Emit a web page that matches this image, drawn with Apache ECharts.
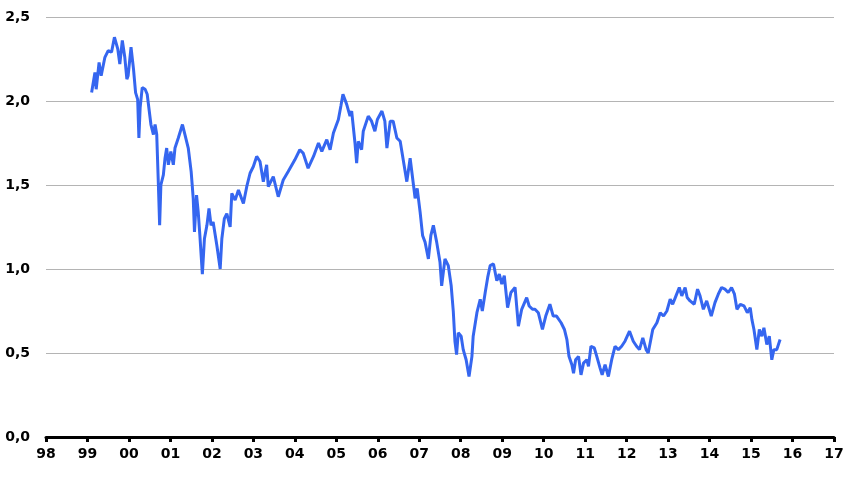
<!DOCTYPE html>
<html>
<head>
<meta charset="utf-8">
<script src="https://cdn.jsdelivr.net/npm/echarts@6/dist/echarts.min.js"></script>
<style>html,body{margin:0;padding:0;background:#fff}#c{width:854px;height:477px}</style>
</head>
<body>
<div id="c"></div>
<script>
// decimal year of each observation
var years = [
1999.10,1999.18,1999.21,1999.28,1999.33,1999.42,1999.50,1999.58,1999.65,1999.73,1999.78,1999.84,1999.90,1999.95,1999.98,
2000.05,2000.11,2000.16,2000.21,2000.24,2000.27,2000.32,2000.39,2000.44,2000.48,2000.53,2000.59,2000.63,2000.67,2000.71,2000.74,2000.77,2000.83,2000.87,2000.91,2000.95,
2001.01,2001.07,2001.11,2001.19,2001.29,2001.35,2001.43,2001.50,2001.55,2001.58,2001.63,2001.67,2001.71,2001.77,2001.82,2001.88,2001.93,2001.98,
2002.03,2002.12,2002.20,2002.24,2002.30,2002.36,2002.44,2002.48,2002.56,2002.64,2002.76,2002.84,2002.92,
2003.00,2003.08,2003.16,2003.24,2003.32,2003.36,2003.48,2003.60,2003.72,2003.84,
2004.00,2004.12,2004.20,2004.32,2004.45,2004.57,2004.65,2004.77,2004.85,2004.93,
2005.05,2005.11,2005.16,2005.25,2005.33,2005.37,2005.45,2005.49,2005.53,2005.61,2005.65,2005.77,2005.85,2005.93,2005.99,
2006.10,2006.17,2006.22,2006.30,2006.37,2006.46,2006.54,2006.62,2006.70,2006.78,2006.84,2006.90,2006.95,
2007.02,2007.08,2007.14,2007.22,2007.28,2007.34,2007.42,2007.50,2007.54,2007.62,2007.70,2007.77,2007.82,2007.86,2007.90,2007.94,
2008.01,2008.06,2008.13,2008.20,2008.27,2008.30,2008.39,2008.47,2008.52,2008.59,2008.65,2008.71,2008.79,2008.87,2008.93,2008.99,
2009.05,2009.13,2009.21,2009.31,2009.39,2009.47,2009.59,2009.65,2009.73,2009.79,2009.87,2009.97,
2010.05,2010.15,2010.23,2010.31,2010.42,2010.50,2010.56,2010.61,2010.68,2010.72,2010.77,2010.84,2010.90,2010.96,
2011.04,2011.08,2011.14,2011.22,2011.28,2011.36,2011.41,2011.48,2011.56,2011.64,2011.72,2011.80,2011.88,2011.96,
2012.07,2012.16,2012.24,2012.31,2012.39,2012.47,2012.52,2012.63,2012.73,2012.81,2012.89,2012.97,
2013.05,2013.11,2013.19,2013.27,2013.33,2013.41,2013.46,2013.53,2013.63,2013.71,2013.77,2013.85,2013.93,
2014.04,2014.13,2014.21,2014.29,2014.37,2014.45,2014.53,2014.60,2014.66,2014.74,2014.83,2014.91,2014.98,
2015.02,2015.07,2015.14,2015.20,2015.26,2015.31,2015.38,2015.44,2015.50,2015.55,2015.62,2015.70
];
var values = [
2.05,2.17,2.07,2.23,2.15,2.26,2.30,2.29,2.38,2.31,2.22,2.36,2.26,2.13,2.15,
2.32,2.19,2.05,2.01,1.78,1.96,2.08,2.07,2.04,1.96,1.86,1.80,1.86,1.80,1.50,1.26,1.50,1.56,1.66,1.72,1.62,
1.70,1.62,1.72,1.78,1.86,1.80,1.72,1.58,1.42,1.22,1.44,1.34,1.20,0.97,1.18,1.26,1.36,1.26,
1.28,1.14,1.00,1.18,1.30,1.33,1.25,1.45,1.41,1.47,1.39,1.49,1.57,
1.61,1.67,1.64,1.52,1.62,1.49,1.55,1.43,1.53,1.58,
1.65,1.71,1.69,1.60,1.67,1.75,1.70,1.77,1.71,1.81,
1.89,1.97,2.04,1.98,1.91,1.94,1.75,1.63,1.76,1.71,1.82,1.91,1.88,1.82,1.89,
1.94,1.88,1.72,1.88,1.88,1.78,1.76,1.64,1.52,1.66,1.54,1.42,1.48,
1.34,1.20,1.16,1.06,1.20,1.26,1.16,1.04,0.90,1.06,1.02,0.90,0.75,0.57,0.49,0.62,
0.60,0.52,0.46,0.36,0.48,0.60,0.74,0.82,0.75,0.86,0.95,1.02,1.03,0.93,0.97,0.91,
0.96,0.77,0.86,0.89,0.66,0.76,0.83,0.78,0.76,0.76,0.74,0.64,
0.72,0.79,0.72,0.72,0.68,0.64,0.58,0.48,0.43,0.38,0.46,0.48,0.37,0.44,
0.46,0.42,0.54,0.53,0.48,0.41,0.37,0.43,0.36,0.46,0.54,0.52,0.54,0.57,
0.63,0.57,0.54,0.52,0.59,0.52,0.50,0.64,0.68,0.74,0.72,0.75,
0.82,0.79,0.84,0.89,0.84,0.89,0.83,0.81,0.79,0.88,0.84,0.76,0.81,
0.72,0.80,0.85,0.89,0.88,0.86,0.89,0.85,0.76,0.79,0.78,0.74,0.77,
0.70,0.64,0.52,0.64,0.60,0.65,0.55,0.60,0.46,0.52,0.52,0.58
];
var yTicks = [0, 0.5, 1.0, 1.5, 2.0, 2.5];
var xStart = 1998, xEnd = 2017;

var data = years.map(function (y, i) { return [y, values[i]]; });
var chart = echarts.init(document.getElementById('c'), null, { renderer: 'canvas' });
var font = '"DejaVu Sans", Verdana, sans-serif';
chart.setOption({
  animation: false,
  backgroundColor: '#ffffff',
  grid: { left: 46, right: 20, top: 17, bottom: 40, containLabel: false },
  xAxis: {
    type: 'value', min: xStart, max: xEnd, interval: 1,
    axisLine: { show: true, onZero: false, lineStyle: { color: '#000', width: 3 } },
    axisTick: { show: true, length: 5, lineStyle: { color: '#000', width: 3 } },
    splitLine: { show: false },
    axisLabel: {
      margin: 10, color: '#000', fontFamily: font, fontWeight: 'bold', fontSize: 14,
      formatter: function (v) { var s = String(Math.round(v) % 100); return s.length < 2 ? '0' + s : s; }
    }
  },
  yAxis: {
    type: 'value', min: yTicks[0], max: yTicks[yTicks.length - 1], interval: 0.5,
    axisLine: { show: false }, axisTick: { show: false },
    splitLine: { show: true, lineStyle: { color: '#b4b4b4', width: 1 } },
    axisLabel: {
      margin: 16, color: '#000', fontFamily: font, fontWeight: 'bold', fontSize: 14,
      formatter: function (v) { return v.toFixed(1).replace('.', ','); }
    }
  },
  series: [{
    type: 'line', data: data, showSymbol: false, smooth: false,
    lineStyle: { color: '#3566f0', width: 3 }, z: 3
  }]
});
</script>
</body>
</html>
